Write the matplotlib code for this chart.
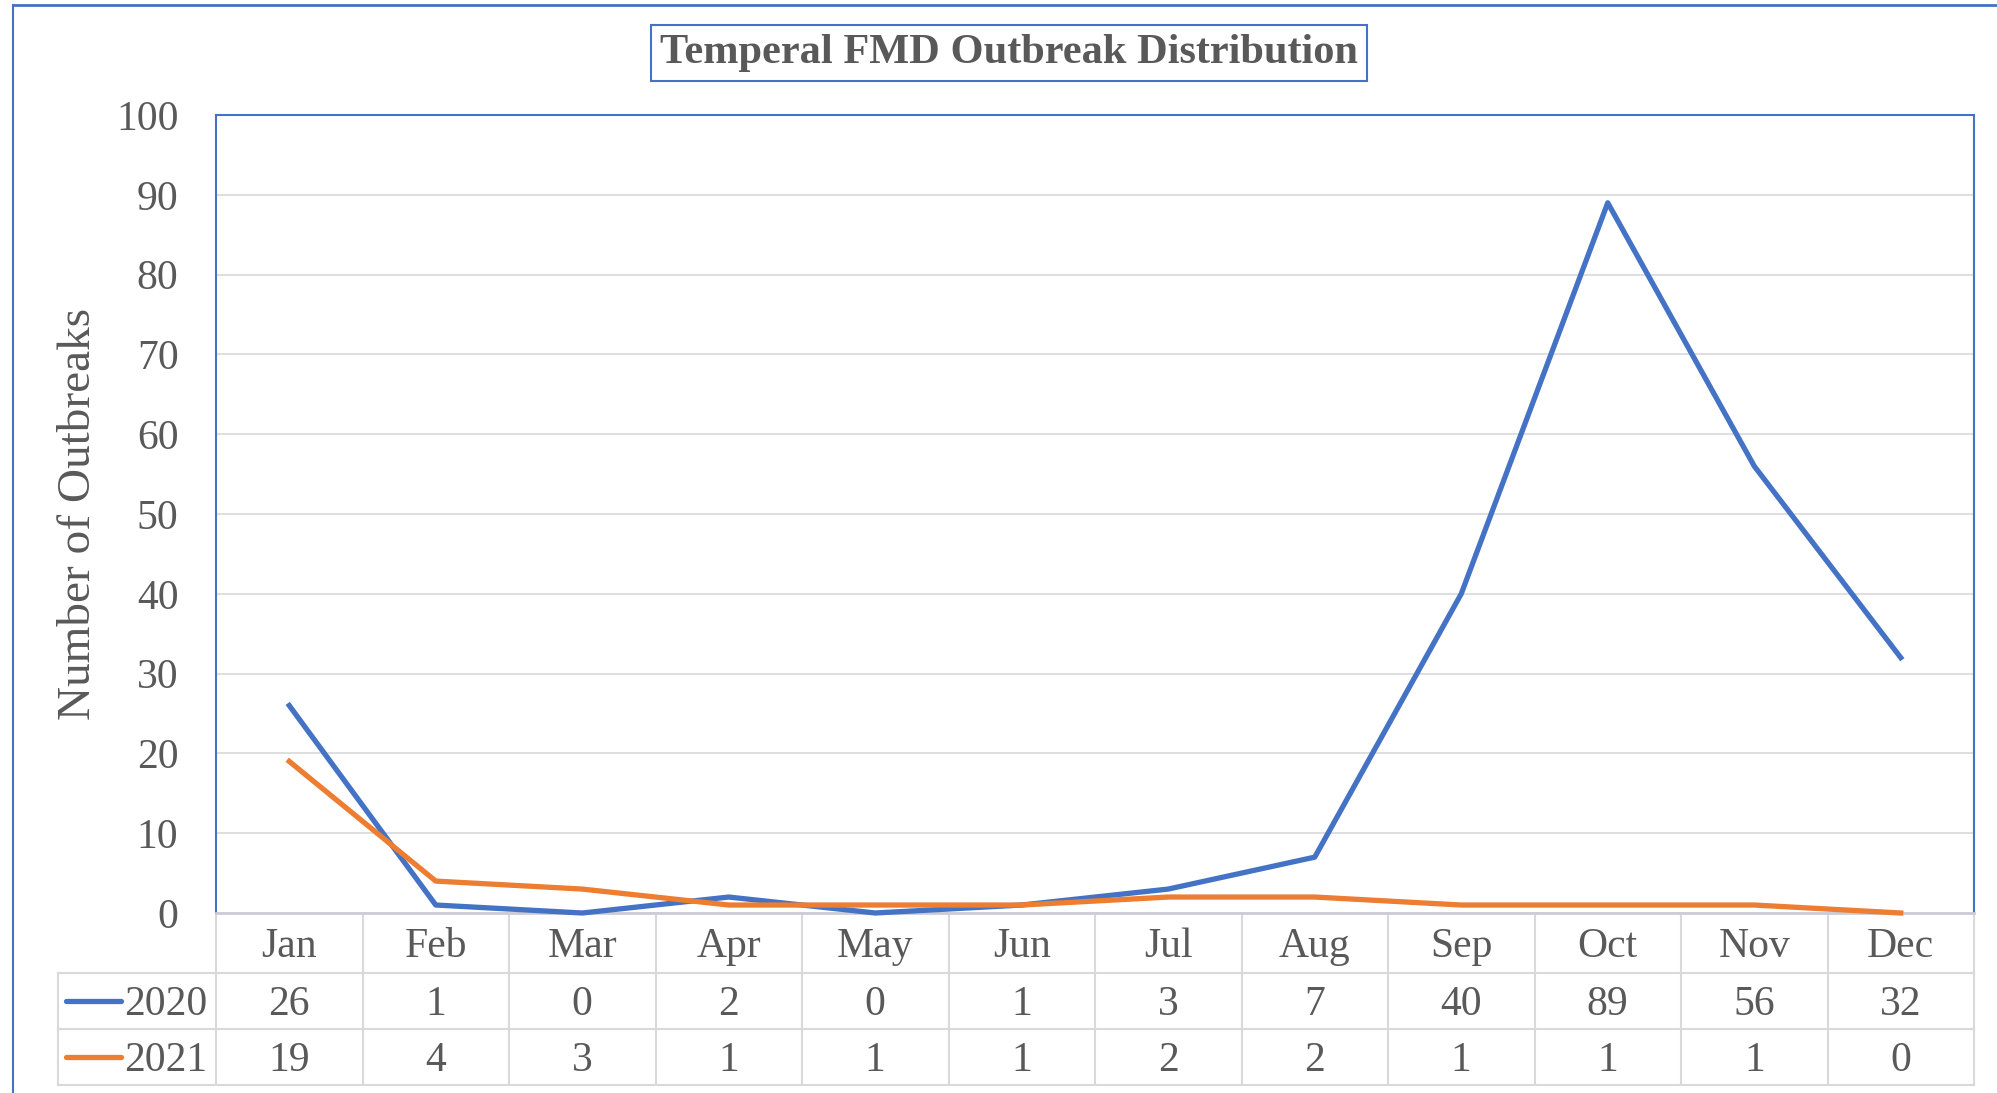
import matplotlib.pyplot as plt
from matplotlib.lines import Line2D
import matplotlib.transforms as mtransforms

plt.rcParams['font.family'] = ['Liberation Serif', 'DejaVu Serif']

# data
months = ['Jan', 'Feb', 'Mar', 'Apr', 'May', 'Jun',
          'Jul', 'Aug', 'Sep', 'Oct', 'Nov', 'Dec']
outbreaks_2020 = [26, 1, 0, 2, 0, 1, 3, 7, 40, 89, 56, 32]
outbreaks_2021 = [19, 4, 3, 1, 1, 1, 2, 2, 1, 1, 1, 0]
series = [('2020', outbreaks_2020, '#4472C4'), ('2021', outbreaks_2021, '#ED7D31')]
yticks = list(range(0, 101, 10))

text_color = '#595959'
grid_color = '#D9D9D9'
frame_blue = '#4472C4'

fig = plt.figure(figsize=(19.97, 10.93), dpi=100)
ax = fig.add_axes([216 / 1997, 1 - 913 / 1093, 1758 / 1997, 798 / 1093])

x = list(range(len(months)))
for name, values, color in series:
    ax.plot(x, values, color=color, lw=3.8, solid_joinstyle='round', clip_on=False, zorder=3)

ax.set_xlim(-0.5, len(months) - 0.5)
ax.set_ylim(0, 100)
ax.set_yticks(yticks)
ax.set_xticks([])
ax.tick_params(axis='y', length=0, pad=27, labelsize=30, labelcolor=text_color)
ax.yaxis.grid(True, color=grid_color, lw=1.2)
ax.set_axisbelow(True)

for side in ['top', 'left', 'right']:
    ax.spines[side].set_color(frame_blue)
    ax.spines[side].set_linewidth(1.5)
ax.spines['bottom'].set_color('#CCCCD6')
ax.spines['bottom'].set_linewidth(2)

ax.set_ylabel('Number of Outbreaks', fontsize=34, color=text_color)
ax.yaxis.set_label_coords(-0.066, 0.5)

# data table under the chart: x in data units, y in axes units
trans = mtransforms.blended_transform_factory(ax.transData, ax.transAxes)
ax_h = 798
row_edges = [0, -60 / ax_h, -116 / ax_h, -172 / ax_h]
text_shift = -4 / ax_h  # cap height centred in the cell, not the full text box
label_left = -1.58
cell_line = dict(color=grid_color, lw=1.5, transform=trans, clip_on=False)

for i in range(len(months) + 1):
    ax.plot([i - 0.5, i - 0.5], [0, row_edges[-1]], **cell_line)
ax.plot([label_left, label_left], [row_edges[1], row_edges[-1]], **cell_line)
for y_edge in row_edges[1:]:
    ax.plot([label_left, len(months) - 0.5], [y_edge, y_edge], **cell_line)

for i, m in enumerate(months):
    ax.text(i, (row_edges[0] + row_edges[1]) / 2 + text_shift, m, transform=trans,
            ha='center', va='center', fontsize=30, color=text_color)

for r, (name, values, color) in enumerate(series):
    yc = (row_edges[r + 1] + row_edges[r + 2]) / 2
    for i, v in enumerate(values):
        ax.text(i, yc + text_shift, str(v), transform=trans, ha='center', va='center',
                fontsize=30, color=text_color)
    ax.plot([-1.525, -1.15], [yc, yc], color=color, lw=3.8, transform=trans,
            clip_on=False, solid_capstyle='round')
    ax.text(-1.13, yc + text_shift, name, transform=trans, ha='left', va='center',
            fontsize=30, color=text_color)

# title box
fig.text(1009 / 1997, 1 - 53 / 1093, 'Temperal FMD Outbreak Distribution',
         ha='center', va='center', fontsize=30.5, fontweight='bold', color=text_color,
         bbox=dict(boxstyle='square,pad=0.22', facecolor='white', edgecolor=frame_blue, lw=1.5))

# outer frame of the chart area
fig.add_artist(Line2D([13 / 1997, 13 / 1997], [0, 1 - 5 / 1093], color=frame_blue, lw=1.5))
fig.add_artist(Line2D([13 / 1997, 1], [1 - 5 / 1093, 1 - 5 / 1093], color=frame_blue, lw=2))

fig.savefig('out.png', dpi=100, facecolor='white')
